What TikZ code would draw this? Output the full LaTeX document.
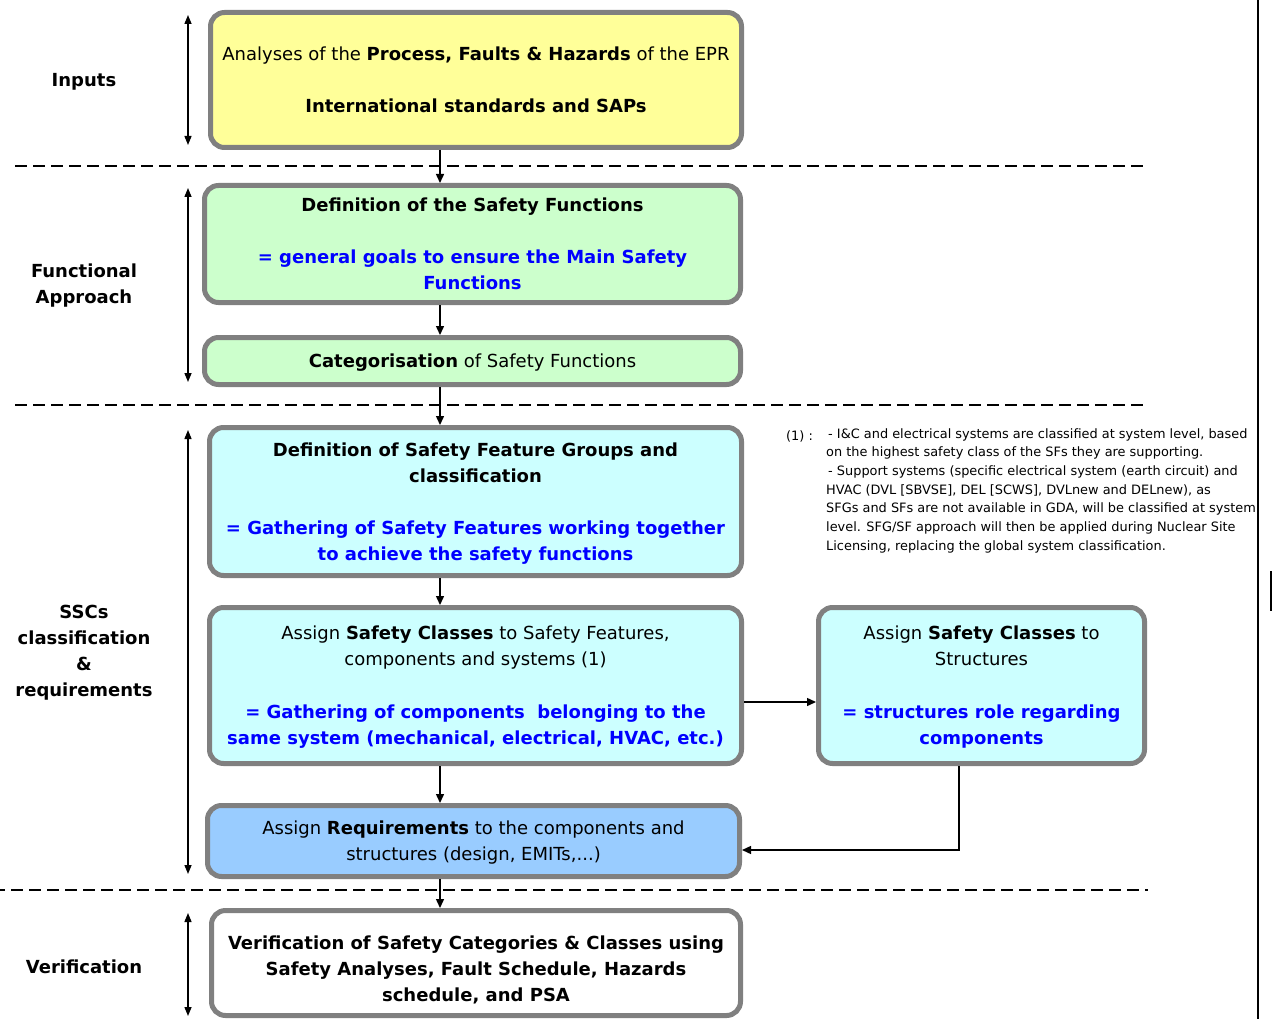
\documentclass[tikz,border=0pt]{standalone}
\usepackage{fontspec}
\setmainfont{DejaVu Sans}
\usetikzlibrary{arrows.meta}

\definecolor{boxgray}{HTML}{808080}
\definecolor{inyellow}{HTML}{FFFF99}
\definecolor{fngreen}{HTML}{CCFFCC}
\definecolor{ssccyan}{HTML}{CCFFFF}
\definecolor{reqblue}{HTML}{99CCFF}
\definecolor{goalblue}{HTML}{0000FF}

\newcommand{\goal}[1]{\textcolor{goalblue}{\bfseries #1}}

\tikzset{
  stagebox/.style={draw=boxgray, line width=5pt, rounded corners=14pt, align=center,
    inner sep=0pt, text depth=0pt, font=\fontsize{18}{26}\selectfont},
  flow/.style={line width=1.4pt, -{Triangle[length=9pt,width=8pt]}},
  span/.style={line width=1.4pt, {Triangle[length=9pt,width=7pt]}-{Triangle[length=9pt,width=7pt]},
    shorten <=5pt, shorten >=5pt},
  sep/.style={line width=1.4pt, dash pattern=on 12pt off 6pt},
  phase/.style={font=\bfseries\fontsize{18}{26}\selectfont, align=center, text depth=0pt},
  notetext/.style={font=\fontsize{12.9}{18.7}\selectfont, inner sep=0pt},
}

\begin{document}
\begin{tikzpicture}[x=1pt,y=-1pt]
\useasboundingbox[fill=white] (0,0) rectangle (1276,1019);

% phase separators
\draw[sep] (15,166) -- (1148,166);
\draw[sep] (15,405) -- (1148,405);
\draw[sep] (-7,890) -- (1148,890);
\draw[line width=2pt] (1257.5,0) -- (1257.5,1019);
\draw[line width=1.8pt] (1271,571) -- (1271,611);

% boxes
\node[stagebox, fill=inyellow, minimum width=531pt, minimum height=135pt] (inp) at (476,80)
  {Analyses of the \textbf{Process, Faults \& Hazards} of the EPR\\[26pt]
   \textbf{International standards and SAPs}};
\node[stagebox, fill=fngreen, minimum width=536pt, minimum height=117pt] (sfdef) at (472.5,244)
  {\textbf{Definition of the Safety Functions}\\[26pt]
   \goal{= general goals to ensure the Main Safety}\\\goal{Functions}};
\node[stagebox, fill=fngreen, minimum width=536pt, minimum height=47pt] (sfcat) at (472.5,361)
  {\textbf{Categorisation} of Safety Functions};
\node[stagebox, fill=ssccyan, minimum width=532pt, minimum height=148pt] (sfg) at (475.5,501.5)
  {\textbf{Definition of Safety Feature Groups and}\\\textbf{classification}\\[26pt]
   \goal{= Gathering of Safety Features working together}\\\goal{to achieve the safety functions}};
\node[stagebox, fill=ssccyan, minimum width=532pt, minimum height=156pt] (sysasg) at (475.5,685.5)
  {Assign \textbf{Safety Classes} to Safety Features,\\components and systems (1)\\[27pt]
   \goal{= Gathering of components\ \ belonging to the}\\\goal{same system (mechanical, electrical, HVAC, etc.)}};
\node[stagebox, fill=ssccyan, minimum width=326pt, minimum height=156pt] (stasg) at (981.5,685.5)
  {Assign \textbf{Safety Classes} to\\Structures\\[27pt]
   \goal{= structures role regarding}\\\goal{components}};
\node[stagebox, fill=reqblue, minimum width=532pt, minimum height=71pt] (req) at (473.5,841)
  {Assign \textbf{Requirements} to the components and\\structures (design, EMITs,...)};
\node[stagebox, fill=white, minimum width=529pt, minimum height=105pt] (verif) at (476,963)
  {\rule{0pt}{25pt}\textbf{Verification of Safety Categories \& Classes using}\\
   \textbf{Safety Analyses, Fault Schedule, Hazards}\\\textbf{schedule, and PSA}};

% phase labels
\node[phase] (lin) at (84,80) {Inputs};
\node[phase] (lfn) at (84,284) {Functional\\Approach};
\node[phase] (lssc) at (84,650.5) {SSCs\\classification\\\&\\requirements};
\node[phase] (lver) at (84,967) {Verification};

% note
\node[notetext, anchor=base west] (notemark) at (786,440) {(1) :};
\node[notetext, anchor=north west, align=left] (note) at (826,428)
  {\hspace{2pt}- I\&C and electrical systems are classified at system level, based\\
   on the highest safety class of the SFs they are supporting.\\
   \hspace{2pt}- Support systems (specific electrical system (earth circuit) and\\
   HVAC (DVL [SBVSE], DEL [SCWS], DVLnew and DELnew), as\\
   SFGs and SFs are not available in GDA, will be classified at system\\
   level. SFG/SF approach will then be applied during Nuclear Site\\
   Licensing, replacing the global system classification.};

% connectors
\coordinate (flowx) at (440,0);
\coordinate (spanx) at (188,0);
\coordinate (hy) at (0,702);
\coordinate (elb) at (959,850);
\coordinate (vbot) at (188,1021);
\draw[flow] (inp.south -| flowx) -- (sfdef.north -| flowx);
\draw[flow] (sfdef.south -| flowx) -- (sfcat.north -| flowx);
\draw[flow] (sfcat.south -| flowx) -- (sfg.north -| flowx);
\draw[flow] (sfg.south -| flowx) -- (sysasg.north -| flowx);
\draw[flow] (sysasg.south -| flowx) -- (req.north -| flowx);
\draw[flow] (req.south -| flowx) -- (verif.north -| flowx);
\draw[flow] (sysasg.east |- hy) -- (stasg.west |- hy);
\draw[flow] (stasg.south -| elb) |- (req.east |- elb);

% phase spans
\draw[span] (inp.north -| spanx) -- (inp.south -| spanx);
\draw[span] (sfdef.north -| spanx) -- (sfcat.south -| spanx);
\draw[span] (sfg.north -| spanx) -- (req.south -| spanx);
\draw[span] (verif.north -| spanx) -- (vbot);
\end{tikzpicture}
\end{document}
